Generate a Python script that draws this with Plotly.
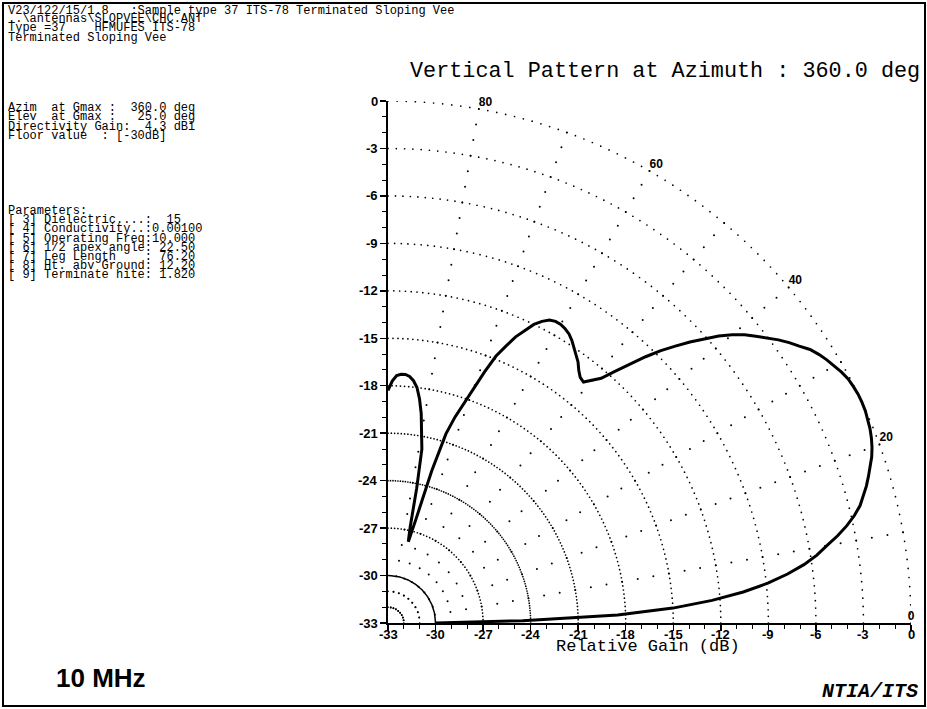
import numpy as np
import plotly.graph_objects as go

# ---------------- data ----------------
elevation_deg = list(range(0, 91))
gain_db = [
    -30.0, -24.5, -18.5, -15.0, -12.5, -10.5, -8.9, -7.6, -6.5, -5.6,      # 0-9
    -4.9, -4.1, -3.4, -2.8, -2.3, -1.95, -1.6, -1.3, -1.0, -0.72,          # 10-19
    -0.5, -0.33, -0.2, -0.1, -0.03, 0.0, 0.0, -0.05, -0.12, -0.28,         # 20-29
    -0.48, -0.7, -0.95, -1.25, -1.7, -2.1, -2.55, -3.05, -3.55, -4.05,     # 30-39
    -4.65, -5.35, -6.15, -6.95, -7.8, -8.65, -9.6, -10.6, -11.6, -12.5,    # 40-49
    -13.0, -13.4, -13.3, -13.0, -12.6, -12.3, -12.0, -11.7, -11.45, -11.3, # 50-59
    -11.2, -11.2, -11.3, -11.6, -12.0, -12.6, -13.2, -14.0, -14.8, -16.0,  # 60-69
    -17.2, -18.3, -19.3, -20.5, -23.0, -26.3, -27.7, -26.8, -24.3, -21.8,  # 70-79
    -20.7, -19.6, -18.7, -18.0, -17.6, -17.35, -17.25, -17.25, -17.35, -17.7,  # 80-89
    -18.3,                                                                 # 90
]
ring_gains = [-32, -31, -30, -27, -24, -21, -18, -15, -12, -9, -6, -3, 0]
radial_angles = [10, 20, 30, 40, 50, 60, 70, 80]
angle_labels = [0, 20, 40, 60, 80]
gain_ticks = list(range(-33, 1, 3))

header_lines = [
    "V23/122/15/1.8   :Sample type 37 ITS-78 Terminated Sloping Vee",
    "..\\antennas\\SLOPVEE\\CHC.ANT",
    "Type =37    HFMUFES ITS-78",
    "Terminated Sloping Vee",
]
summary_lines = [
    "Azim  at Gmax :  360.0 deg",
    "Elev  at Gmax :   25.0 deg",
    "Directivity Gain:  4.3 dBi",
    "Floor value  : [-30dB]",
]
param_lines = [
    "Parameters:",
    "[ 3] Dielectric....:  15",
    "[ 4] Conductivity..:0.00100",
    "[ 5] Operating Freq:10.000",
    "[ 6] 1/2 apex angle: 22.50",
    "[ 7] Leg Length    : 76.20",
    "[ 8] Ht. abv Ground: 12.20",
    "[ 9] Terminate hite: 1.820",
]
title_text = "Vertical Pattern at Azimuth : 360.0 deg"
freq_text = "10 MHz"
credit_text = "NTIA/ITS"
xaxis_text = "Relative Gain (dB)"

# ---------------- geometry helpers ----------------
FLOOR = -33.0
W, H = 927, 709
ML, MT = 388, 101
PW, PH = 523, 522
MR, MB = W - ML - PW, H - MT - PH


def to_xy(gains, angles_deg):
    g = np.asarray(gains, dtype=float)
    a = np.radians(np.asarray(angles_deg, dtype=float))
    r = g - FLOOR
    return FLOOR + r * np.cos(a), FLOOR + r * np.sin(a)


def pxx(px):            # reference pixel x -> paper
    return (px - ML) / PW


def pxy(py):            # reference pixel y -> paper
    return (MT + PH - py) / PH


def nb(s):
    return s.replace(" ", "\u00a0")


fig = go.Figure()

# ---------------- grid rings ----------------
for g in ring_gains:
    if g == -30:
        ang = np.linspace(0, 90, 181)
        x, y = to_xy(np.full(ang.size, g), ang)
        fig.add_trace(go.Scatter(x=x, y=y, mode="lines",
                                 line=dict(color="black", width=1.5),
                                 hoverinfo="skip", showlegend=False))
        continue
    step = 10 if g < -30 else (2 if g == -27 else 1)
    ang = np.arange(0, 90 + 0.001, step)
    x, y = to_xy(np.full(ang.size, g), ang)
    fig.add_trace(go.Scatter(x=x, y=y, mode="markers",
                             marker=dict(color="black", size=1.7),
                             hoverinfo="skip", showlegend=False))

# ---------------- radial dotted lines ----------------
for a in radial_angles:
    gs = np.arange(FLOOR + 1, 0.001, 1.0)
    x, y = to_xy(gs, np.full(gs.size, a))
    fig.add_trace(go.Scatter(x=x, y=y, mode="markers",
                             marker=dict(color="black", size=2),
                             hoverinfo="skip", showlegend=False))

# ---------------- angle labels ----------------
lx, ly = to_xy(np.zeros(len(angle_labels)), angle_labels)
fig.add_trace(go.Scatter(x=lx, y=ly, mode="text",
                         text=[f"<b>{a}</b>" for a in angle_labels],
                         textposition=["top center"] + ["top right"] * (len(angle_labels) - 1),
                         textfont=dict(family="Liberation Sans", size=12, color="black"),
                         cliponaxis=False, hoverinfo="skip", showlegend=False))

# ---------------- pattern ----------------
px_, py_ = to_xy(gain_db, elevation_deg)
fig.add_trace(go.Scatter(x=px_, y=py_, mode="lines",
                         line=dict(color="black", width=3),
                         hoverinfo="skip", showlegend=False))

axis_common = dict(
    range=[FLOOR, 0], tickmode="array", tickvals=gain_ticks,
    ticks="outside", ticklen=6, tickwidth=1.5, tickcolor="black",
    showticklabels=False,
    minor=dict(tickmode="linear", tick0=FLOOR, dtick=1, ticks="outside",
               ticklen=4, tickwidth=1, tickcolor="black", showgrid=False),
    showline=True, linewidth=2, linecolor="black",
    showgrid=False, zeroline=False, fixedrange=True,
)
fig.update_xaxes(**axis_common)
fig.update_yaxes(**axis_common)

annotations = []
mono = "Liberation Mono"
tickfont = dict(family="Liberation Sans", size=13, color="black")

# tick labels (placed on the axes' own data scale)
for v in gain_ticks:
    annotations.append(dict(text=f"<b>{v}</b>", x=v, y=pxy(634), xref="x", yref="paper",
                            xanchor="center", yanchor="middle", showarrow=False,
                            font=tickfont))
    annotations.append(dict(text=f"<b>{v}</b>", x=pxx(380), y=v, xref="paper", yref="y",
                            xanchor="right", yanchor="middle", showarrow=False,
                            font=tickfont))


def add_line(text, x_px, y_px, size, family=mono, xanchor="left", bold=False, italic=False):
    t = nb(text)
    if bold:
        t = "<b>" + t + "</b>"
    if italic:
        t = "<i>" + t + "</i>"
    annotations.append(dict(
        text=t, x=pxx(x_px), y=pxy(y_px), xref="paper", yref="paper",
        xanchor=xanchor, yanchor="middle", showarrow=False,
        font=dict(family=family, size=size, color="black")))


header_y = [11, 19.5, 28, 38]
for s, yy in zip(header_lines, header_y):
    add_line(s, 6, yy, 12)
for i, s in enumerate(summary_lines):
    add_line(s, 6, 108 + i * 9.3, 12)
for i, s in enumerate(param_lines):
    add_line(s, 6, 211 + i * 9.2, 12)

add_line(title_text, 408, 72, 21.8)
add_line(xaxis_text, 648, 646, 17, xanchor="center")
add_line(freq_text, 54, 678, 26, family="Liberation Sans", bold=True)
add_line(credit_text, 920, 691, 20, xanchor="right", bold=True, italic=True)

fig.update_layout(
    width=W, height=H, autosize=False,
    margin=dict(l=ML, r=MR, t=MT, b=MB, pad=0),
    plot_bgcolor="white", paper_bgcolor="white",
    showlegend=False,
    annotations=annotations,
    shapes=[dict(type="rect", xref="paper", yref="paper",
                 x0=pxx(3), x1=pxx(925), y0=pxy(706), y1=pxy(3),
                 line=dict(color="black", width=2), layer="below")],
)

fig.write_html(
    "out.html",
    config={"displayModeBar": False, "staticPlot": True},
    post_script="document.body.style.margin='0';document.body.style.overflow='hidden';",
)
